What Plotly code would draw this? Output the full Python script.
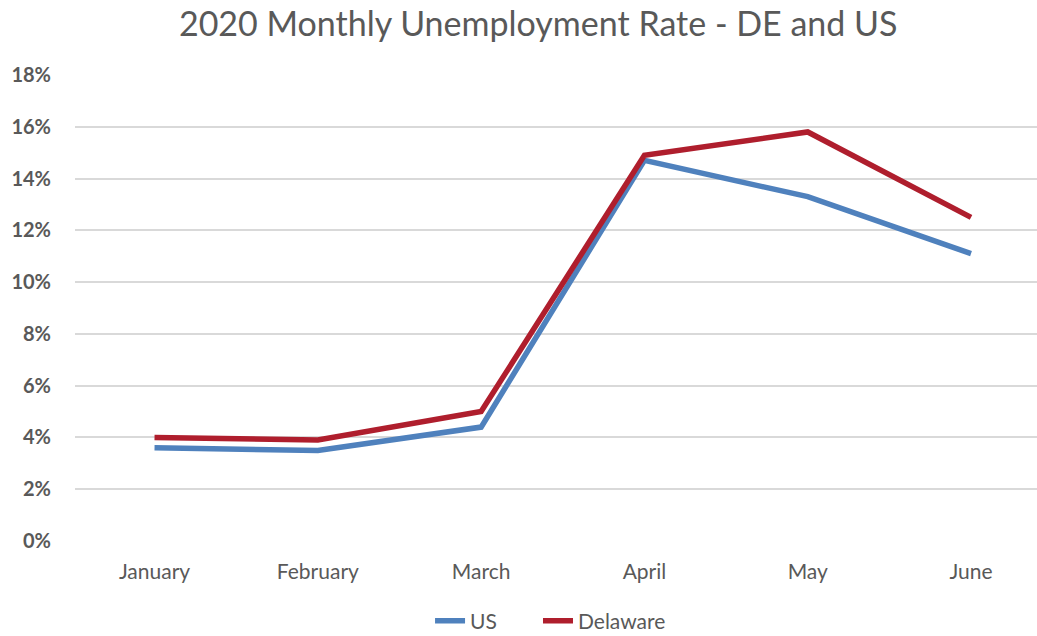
import plotly.graph_objects as go

months = ["January", "February", "March", "April", "May", "June"]
us_rate = [3.6, 3.5, 4.4, 14.7, 13.3, 11.1]
de_rate = [4.0, 3.9, 5.0, 14.9, 15.8, 12.5]
y_ticks = [0, 2, 4, 6, 8, 10, 12, 14, 16, 18]
y_tick_labels = [f"{v}%" for v in y_ticks]

fig = go.Figure()
fig.add_trace(go.Scatter(x=months, y=us_rate, name="US", mode="lines",
                         line=dict(color="#4F81BD", width=5.5), legend="legend"))
fig.add_trace(go.Scatter(x=months, y=de_rate, name="Delaware", mode="lines",
                         line=dict(color="#AF1E2D", width=5.5), legend="legend2"))

legend_common = dict(orientation="h", xref="container", yref="container",
                     xanchor="left", y=0.0236, yanchor="middle",
                     bgcolor="rgba(0,0,0,0)",
                     font=dict(size=21, color="#595959"))

fig.update_layout(
    width=1037, height=636,
    paper_bgcolor="white", plot_bgcolor="white",
    margin=dict(l=75, r=0, t=75, b=95),
    font=dict(family="Lato", color="#595959"),
    title=dict(text="2020 Monthly Unemployment Rate - DE and US",
               x=0.519, xanchor="center", y=0.9807, yanchor="top",
               font=dict(family="Lato", size=34, color="#595959")),
    showlegend=True,
    legend=dict(x=0.4147, **legend_common),
    legend2=dict(x=0.5188, **legend_common),
    xaxis=dict(type="category", range=[-0.487, 5.404], showgrid=False,
               showline=False, ticks="", zeroline=False,
               ticklabelstandoff=16,
               tickfont=dict(size=21, color="#595959")),
    yaxis=dict(range=[0, 18], tickvals=y_ticks, ticktext=y_tick_labels,
               showgrid=True, gridcolor="#D9D9D9", gridwidth=1.5,
               zeroline=False, showline=False, ticks="",
               ticklabelstandoff=23,
               tickfont=dict(family="Lato", size=20, color="#595959", weight="bold")),
)

fig.write_html("out.html", config={"displayModeBar": False},
               post_script="document.body.style.margin='0';document.body.style.overflow='hidden';")
